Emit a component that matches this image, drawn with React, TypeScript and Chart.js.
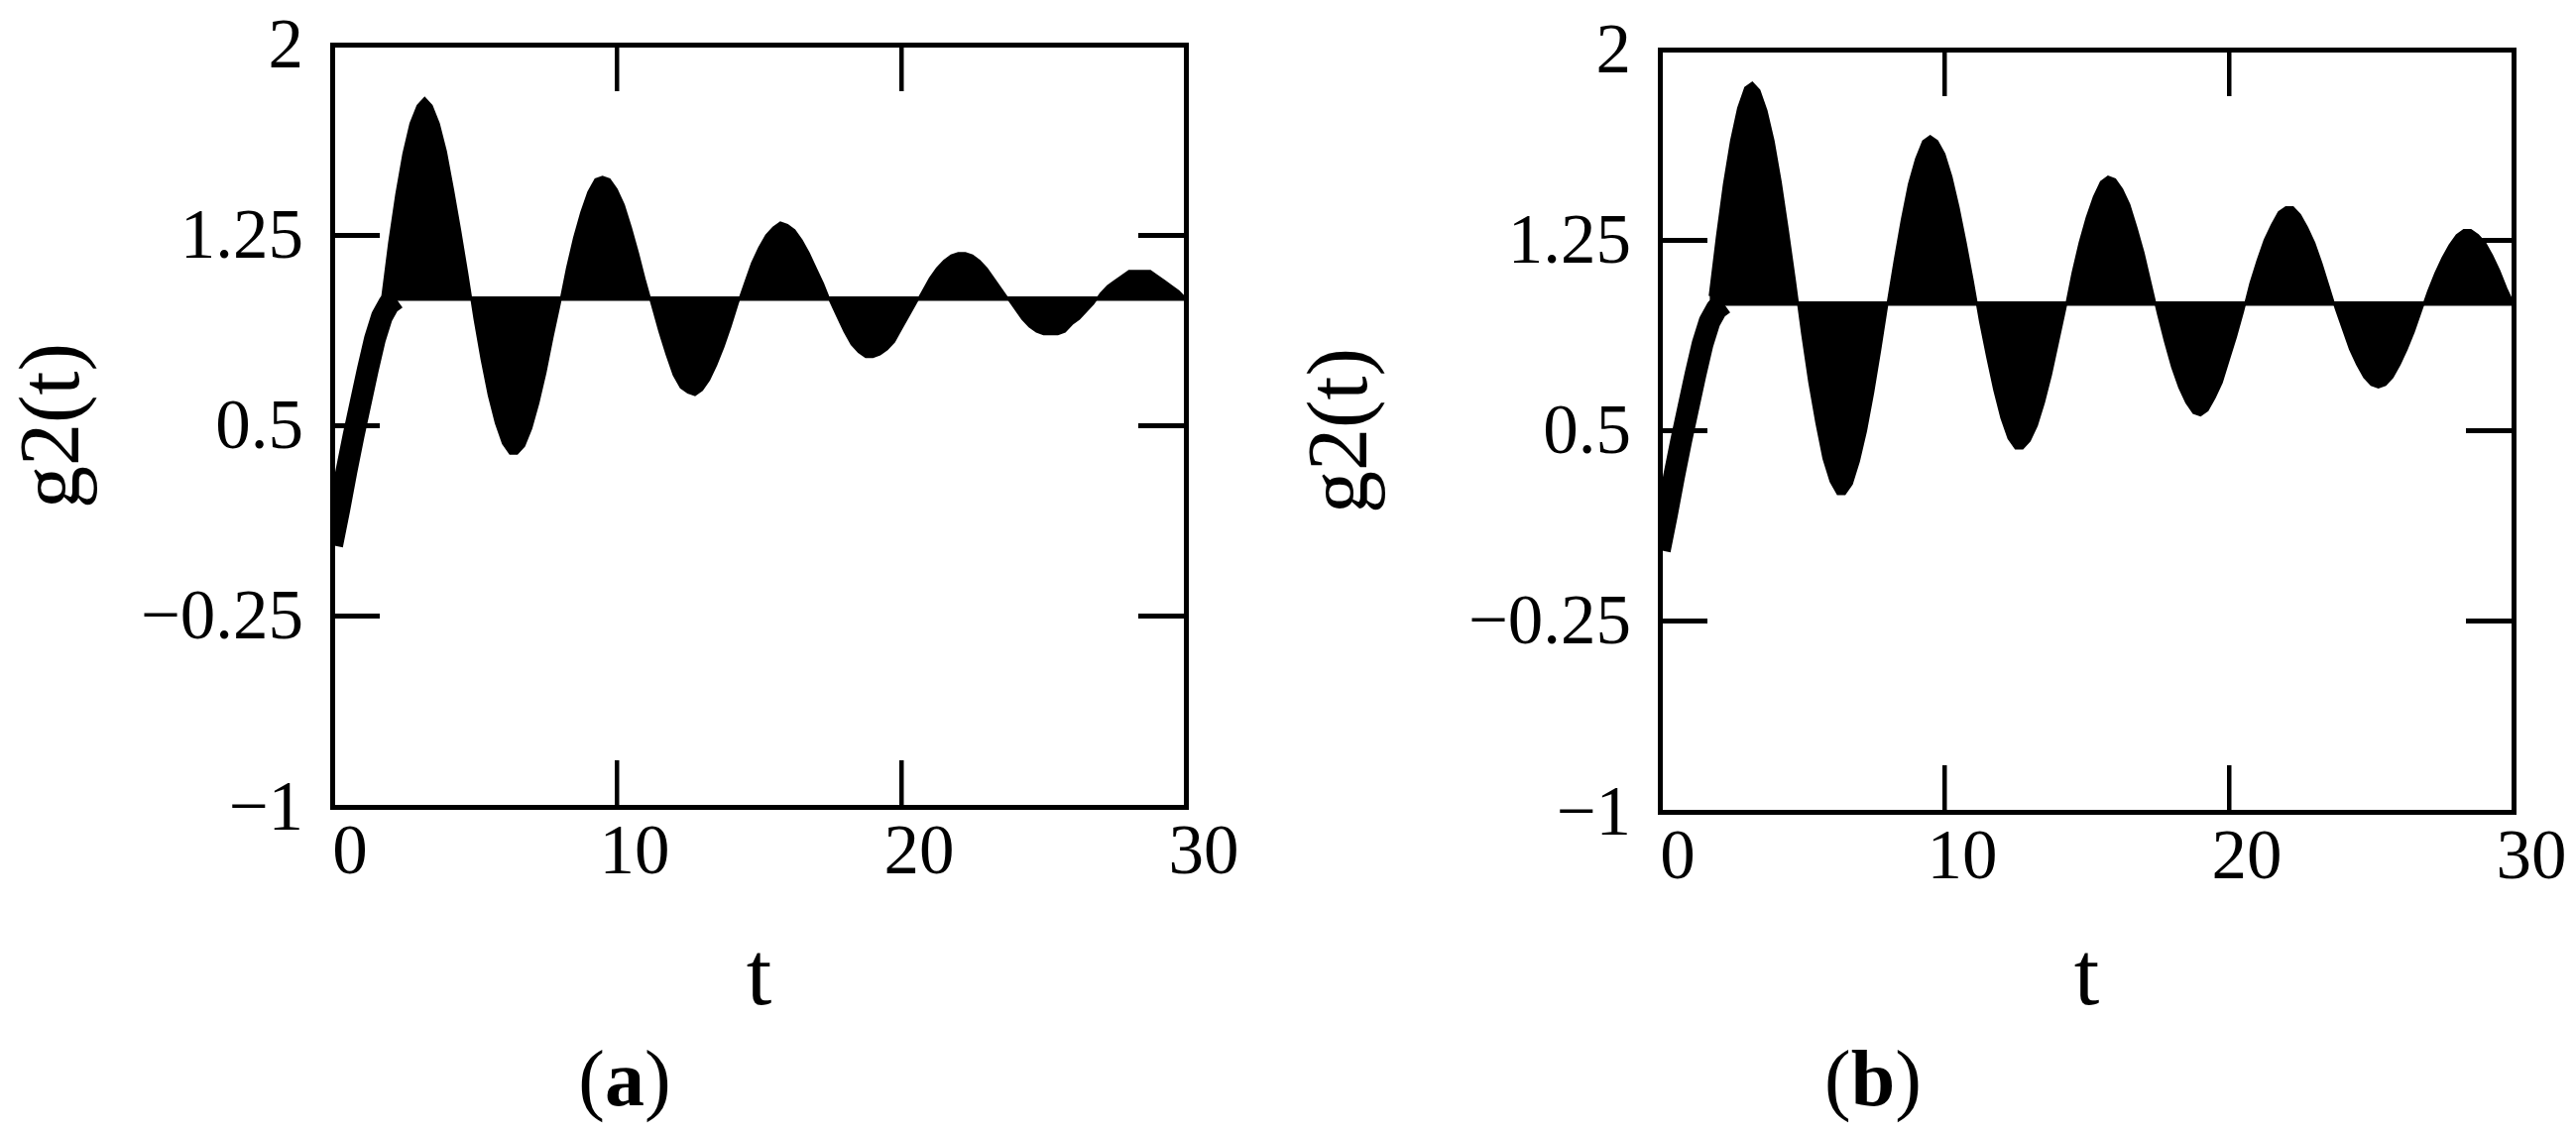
import React, { useEffect, useRef } from 'react';
import { Chart, registerables } from 'chart.js';

Chart.register(...registerables);

const FONT = "'Liberation Serif', 'Times New Roman', Times, serif";

// axis ticks
const X_TICKS = [0, 10, 20, 30];
const X_TICK_LABELS = ['0', '10', '20', '30'];
const Y_TICKS = [-1, -0.25, 0.5, 1.25, 2];
const Y_TICK_LABELS = ['\u22121', '\u22120.25', '0.5', '1.25', '2'];

// early rising part of g2(t) (thick curve), t = 0 .. 2.25
const EARLY_T = [0, 0.25, 0.5, 0.75, 1, 1.25, 1.5, 1.75, 2, 2.25];
const EARLY_A = [0.03, 0.17, 0.32, 0.46, 0.59, 0.72, 0.84, 0.93, 0.98, 1.0];
const EARLY_B = [0.03, 0.17, 0.32, 0.46, 0.59, 0.72, 0.84, 0.93, 0.98, 1.0];

// oscillating part, sampled every 0.25 from t = 1.75 to t = 30
const OSC_T0 = 1.75;
const OSC_DT = 0.25;
const G2_A = [
  1.00, 1.22, 1.41, 1.57, 1.69, 1.76, 1.79, 1.76, 1.69, 1.58,
  1.43, 1.27, 1.10, 0.92, 0.76, 0.62, 0.51, 0.43, 0.39, 0.39,
  0.42, 0.49, 0.59, 0.71, 0.85, 0.98, 1.12, 1.24, 1.34, 1.42,
  1.47, 1.48, 1.47, 1.43, 1.37, 1.28, 1.18, 1.07, 0.97, 0.87,
  0.78, 0.70, 0.65, 0.63, 0.62, 0.64, 0.68, 0.74, 0.81, 0.89,
  0.98, 1.06, 1.14, 1.20, 1.25, 1.28, 1.30, 1.29, 1.27, 1.23,
  1.18, 1.12, 1.06, 0.99, 0.93, 0.87, 0.82, 0.79, 0.77, 0.77,
  0.78, 0.80, 0.83, 0.88, 0.93, 0.98, 1.03, 1.08, 1.12, 1.15,
  1.17, 1.18, 1.18, 1.17, 1.15, 1.12, 1.08, 1.04, 1.00, 0.96,
  0.92, 0.89, 0.87, 0.86, 0.86, 0.86, 0.87, 0.90, 0.92, 0.95,
  0.98, 1.02, 1.05, 1.07, 1.09, 1.11, 1.11, 1.11, 1.11, 1.09,
  1.07, 1.05, 1.03, 1.00,
];
const G2_B = [
  1.03, 1.26, 1.47, 1.64, 1.77, 1.85, 1.87, 1.84, 1.76, 1.64,
  1.48, 1.29, 1.09, 0.88, 0.69, 0.53, 0.39, 0.30, 0.25, 0.25,
  0.29, 0.38, 0.50, 0.65, 0.82, 1.00, 1.17, 1.33, 1.47, 1.57,
  1.64, 1.66, 1.64, 1.59, 1.50, 1.38, 1.24, 1.09, 0.93, 0.79,
  0.66, 0.55, 0.47, 0.43, 0.43, 0.46, 0.52, 0.61, 0.72, 0.85,
  0.98, 1.12, 1.24, 1.34, 1.42, 1.48, 1.50, 1.49, 1.45, 1.39,
  1.30, 1.20, 1.08, 0.96, 0.85, 0.75, 0.67, 0.61, 0.57, 0.56,
  0.58, 0.63, 0.69, 0.78, 0.87, 0.97, 1.08, 1.17, 1.25, 1.31,
  1.36, 1.38, 1.38, 1.35, 1.30, 1.24, 1.16, 1.07, 0.98, 0.90,
  0.82, 0.76, 0.71, 0.68, 0.67, 0.68, 0.71, 0.76, 0.82, 0.89,
  0.97, 1.05, 1.12, 1.18, 1.23, 1.27, 1.29, 1.29, 1.27, 1.24,
  1.19, 1.13, 1.06, 1.00,
];
const BASELINE = 1;

const X_MIN = 0, X_MAX = 30, Y_MIN = -1, Y_MAX = 2;

type Geom = { w: number; h: number; left: number; right: number; top: number; bottom: number };

const GEOM_A: Geom = { w: 1260, h: 1144, left: 335, right: 1196, top: 45, bottom: 814 };
const GEOM_B: Geom = { w: 1299, h: 1144, left: 375, right: 1236, top: 50, bottom: 819 };

const noPad = (s: any) => { s.paddingTop = 0; s.paddingBottom = 0; s.paddingLeft = 0; s.paddingRight = 0; };

function makeChart(canvas: HTMLCanvasElement, early: number[], osc: number[], g: Geom) {
  const earlyPts = early.map((v, i) => ({ x: EARLY_T[i], y: v }));
  const oscPts = osc.map((v, i) => ({ x: OSC_T0 + i * OSC_DT, y: v }));
  const basePts = [{ x: OSC_T0, y: BASELINE }, { x: X_MAX, y: BASELINE }];

  const gridX = { drawOnChartArea: false, drawTicks: true, tickLength: -47, lineWidth: 4.5, color: '#000' };
  const gridY = { drawOnChartArea: false, drawTicks: true, tickLength: -48, lineWidth: 5, color: '#000' };
  const border = { display: true, width: 5, color: '#000' };
  const setX = (s: any) => { s.ticks = X_TICKS.map((v) => ({ value: v })); };
  const setY = (s: any) => { s.ticks = Y_TICKS.map((v) => ({ value: v })); };

  return new Chart(canvas, {
    type: 'line',
    data: {
      datasets: [
        {
          data: oscPts,
          fill: { value: BASELINE },
          backgroundColor: '#000',
          borderColor: '#000',
          borderWidth: 2,
          pointRadius: 0,
          tension: 0,
        },
        {
          data: basePts,
          fill: false,
          borderColor: '#000',
          borderWidth: 4.5,
          pointRadius: 0,
        },
        {
          data: earlyPts,
          fill: false,
          borderColor: '#000',
          borderWidth: 22,
          pointRadius: 0,
          tension: 0,
          borderJoinStyle: 'round',
          clip: 0,
        },
      ] as any,
    },
    options: {
      responsive: false,
      animation: false,
      devicePixelRatio: 1,
      layout: { padding: 0 },
      plugins: { legend: { display: false }, tooltip: { enabled: false } },
      scales: {
        x: {
          type: 'linear', position: 'bottom', min: X_MIN, max: X_MAX,
          afterBuildTicks: setX,
          ticks: {
            autoSkip: false, maxRotation: 0, color: '#000', padding: 53, labelOffset: 18,
            font: { family: FONT, size: 71 },
            callback: (v: any) => X_TICK_LABELS[X_TICKS.indexOf(Number(v))],
          },
          grid: gridX, border,
          title: { display: true, text: 't', color: '#000', font: { family: FONT, size: 92 }, padding: { top: 0, bottom: 100 } },
          afterFit: (s: any) => { s.height = g.h - g.bottom; noPad(s); },
        },
        x2: {
          type: 'linear', position: 'top', min: X_MIN, max: X_MAX,
          afterBuildTicks: setX,
          ticks: { display: false },
          grid: gridX, border,
          afterFit: (s: any) => { s.height = g.top; noPad(s); },
        },
        y: {
          type: 'linear', position: 'left', min: Y_MIN, max: Y_MAX,
          afterBuildTicks: setY,
          ticks: {
            autoSkip: false, color: '#000', padding: 77, labelOffset: 4,
            font: { family: FONT, size: 71 },
            callback: (v: any) => Y_TICK_LABELS[Y_TICKS.indexOf(Number(v))],
          },
          grid: gridY, border,
          title: { display: true, text: 'g2(t)', color: '#000', font: { family: FONT, size: 86 }, padding: { top: 5, bottom: 0 } },
          afterFit: (s: any) => { s.width = g.left; noPad(s); },
        },
        y2: {
          type: 'linear', position: 'right', min: Y_MIN, max: Y_MAX,
          afterBuildTicks: setY,
          ticks: { display: false },
          grid: gridY, border,
          afterFit: (s: any) => { s.width = g.w - g.right; noPad(s); },
        },
      },
    } as any,
  });
}

function Panel({ early, osc, geom, x }: { early: number[]; osc: number[]; geom: Geom; x: number }) {
  const ref = useRef<HTMLCanvasElement | null>(null);
  useEffect(() => {
    if (!ref.current) return;
    const chart = makeChart(ref.current, early, osc, geom);
    return () => chart.destroy();
  }, []);
  return (
    <canvas
      ref={ref}
      width={geom.w}
      height={geom.h}
      style={{ position: 'absolute', left: x, top: 0, width: geom.w, height: geom.h, display: 'block' }}
    />
  );
}

const captionStyle = (cx: number): React.CSSProperties => ({
  position: 'absolute',
  left: cx - 150,
  width: 300,
  top: 1048,
  textAlign: 'center',
  fontFamily: FONT,
  fontSize: 80,
  lineHeight: '80px',
  color: '#000',
});

export default function App() {
  return (
    <div style={{ position: 'absolute', left: 0, top: 0, width: 2598, height: 1144, background: '#fff', overflow: 'hidden' }}>
      <Panel early={EARLY_A} osc={G2_A} geom={GEOM_A} x={0} />
      <Panel early={EARLY_B} osc={G2_B} geom={GEOM_B} x={1299} />
      <div style={captionStyle(630)}>(<b>a</b>)</div>
      <div style={captionStyle(1889)}>(<b>b</b>)</div>
    </div>
  );
}
